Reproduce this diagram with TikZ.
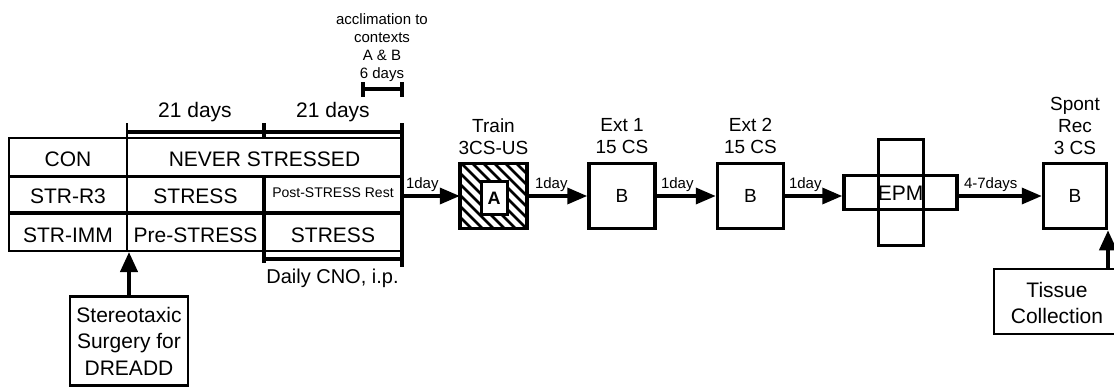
\documentclass[tikz,border=0pt]{standalone}
\usepackage{fontspec}
\setmainfont{Liberation Sans}
\usetikzlibrary{arrows.meta}
\begin{document}
\begin{tikzpicture}[x=1pt,y=-1pt,
  big/.style={font=\fontsize{21}{26.5}\selectfont},
  cno/.style={font=\fontsize{20}{24}\selectfont},
  mid/.style={font=\fontsize{19}{22}\selectfont},
  small/.style={font=\fontsize{15}{18}\selectfont},
  tiny/.style={font=\fontsize{14}{17}\selectfont},
  txt/.style={inner sep=0pt, outer sep=0pt, align=center},
  box/.style={draw, line width=3.5pt, inner sep=0pt, minimum width=64pt, minimum height=65pt},
  arr/.style={line width=3.5pt, -{Triangle[length=20pt,width=16pt]}},
  tline/.style={line width=2.5pt},
  bline/.style={line width=4pt},
  daylbl/.style={txt, small, anchor=base west},
]
\useasboundingbox (0,0) rectangle (1114,388);

% ---------------- table ----------------
\draw[tline] (9,138) rectangle (402,251);
\draw[line width=3pt] (9,176) -- (402,176);
\draw[line width=4.5pt] (9,213) -- (402,213);
\draw[tline] (127,123) -- (127,251);
\draw[line width=3.5pt] (264,176) -- (264,263);
\draw[line width=3.5pt] (402,123) -- (402,267);
% 21 days bracket
\draw[bline] (127,132) -- (402,132);
\draw[line width=4pt] (264,123) -- (264,138);
% CNO bracket
\draw[bline] (264,259) -- (402,259);
% acclimation bracket
\draw[bline] (363,89) -- (402,89);
\draw[line width=3.5pt] (363,82) -- (363,97);
\draw[line width=3.5pt] (402,82) -- (402,97);

\node[txt,big,anchor=base] (con) at (68,166) {CON};
\node[txt,big,anchor=base] (never) at (264.5,166) {NEVER STRESSED};
\node[txt,big,anchor=base] (r3) at (68,203) {STR-R3};
\node[txt,big,anchor=base] (stressA) at (195.5,203) {STRESS};
\node[txt,tiny,anchor=base] (post) at (333,197) {Post-STRESS Rest};
\node[txt,big,anchor=base] (imm) at (68,242) {STR-IMM};
\node[txt,big,anchor=base] (pre) at (195.5,242) {Pre-STRESS};
\node[txt,big,anchor=base] (stressB) at (333,242) {STRESS};

\node[txt,big,anchor=base] (d21a) at (195,117) {21 days};
\node[txt,big,anchor=base] (d21b) at (333,117) {21 days};
\node[txt,small,anchor=north] (accl) at (382,13.5) {acclimation to\\contexts\\A \& B\\6 days};
\node[txt,cno,anchor=base] (cnolbl) at (332.5,283) {Daily CNO, i.p.};

% surgery
\node[draw,tline,minimum width=118pt,minimum height=89pt,inner sep=0pt] (surg) at (129,341) {};
\node[txt,big,anchor=north] (surglbl) at (129,307) {Stereotaxic\\Surgery for\\DREADD};
\coordinate (tabB) at (128,252);
\draw[line width=4pt,-{Triangle[length=20pt,width=17pt]}] (surg.north) -- (surg.north |- tabB);

% ---------------- timeline boxes ----------------
\node[inner sep=0pt,minimum width=67pt,minimum height=65pt] (train) at (493.5,196) {};
\begin{scope}
  \clip (train.north west) rectangle (train.south east);
  \foreach \k in {-88,-77,...,88} {
    \draw[line width=2.7pt] (458+\k,160) -- (458+\k+72,232);
  }
\end{scope}
\draw[line width=3.5pt] (train.north west) rectangle (train.south east);
\node[draw,fill=white,line width=3pt,minimum width=26pt,minimum height=33pt,inner sep=0pt,
      font=\fontsize{18}{20}\bfseries\selectfont] (ctxA) at (494,198) {A};

\node[box,minimum width=66pt] (ext1) at (622,196) {};
\node[txt,mid] at (ext1) {B};
\node[box,minimum width=66pt] (ext2) at (750.5,196) {};
\node[txt,mid] at (ext2) {B};

\node[draw,line width=3.5pt,minimum width=113pt,minimum height=34pt,inner sep=0pt] (epmh) at (900.5,192.5) {};
\node[draw,line width=3.5pt,minimum width=45pt,minimum height=106pt,inner sep=0pt] (epmv) at (901,192.5) {};
\node[txt,big] (epm) at (900.5,193) {EPM};

\node[box,minimum width=63pt,minimum height=65pt] (spont) at (1075,196) {};
\node[txt,mid] at (spont) {B};

\node[txt,mid,anchor=north] (trainlbl) at (493.5,118.5) {Train\\3CS-US};
\node[txt,mid,anchor=north] (ext1lbl) at (622,118.5) {Ext 1\\15 CS};
\node[txt,mid,anchor=north] (ext2lbl) at (750.5,118.5) {Ext 2\\15 CS};
\node[txt,mid,anchor=north] (spontlbl) at (1075,97.5) {Spont\\Rec\\3 CS};

% tissue collection
\node[txt,big,anchor=north] (tissue) at (1057,282) {Tissue\\Collection};
\draw[tline] (1118,269) -- (994,269) -- (994,334) -- (1118,334);
\coordinate (tisTop) at (1108,269);
\draw[line width=4pt,-{Triangle[length=20pt,width=17pt]}] (tisTop) -- (tisTop |- spont.south);

% ---------------- arrows ----------------
\coordinate (tabR) at (402,196);
\draw[arr] (tabR) -- (tabR -| train.west);
\draw[arr] (train.east) -- (ext1.west);
\draw[arr] (ext1.east) -- (ext2.west);
\draw[arr] (ext2.east) -- (ext2.east -| epmh.west);
\draw[arr] (epmh.east |- spont.west) -- (spont.west);

\node[daylbl] (l1) at (406,188) {1day};
\node[daylbl] (l2) at (535,188) {1day};
\node[daylbl] (l3) at (661,188) {1day};
\node[daylbl] (l4) at (789,188) {1day};
\node[daylbl] (l5) at (964,188) {4-7days};
\end{tikzpicture}
\end{document}
